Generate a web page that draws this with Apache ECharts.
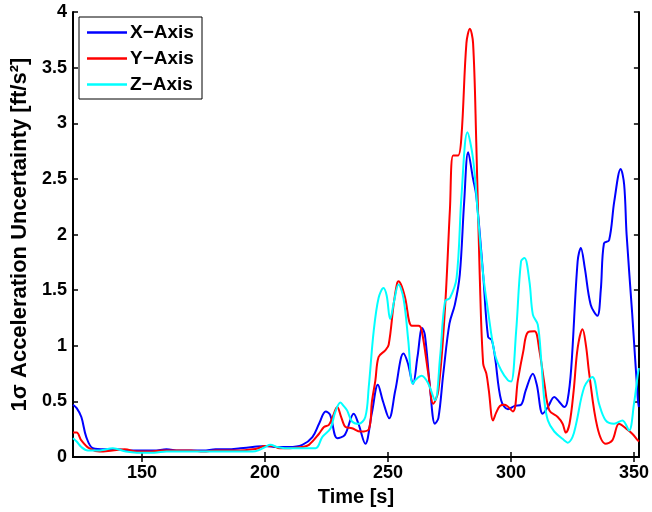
<!DOCTYPE html>
<html>
<head>
<meta charset="utf-8">
<script src="https://cdn.jsdelivr.net/npm/echarts@6/dist/echarts.min.js"></script>
<style>html,body{margin:0;padding:0;background:#fff}#c{width:652px;height:512px}</style>
</head>
<body>
<div id="c"></div>
<script>
// ---- data ----
const seriesNames = ['X\u2212Axis', 'Y\u2212Axis', 'Z\u2212Axis'];
const xTicks = [150, 200, 250, 300, 350];

const xTime = [122,123.5,125.4,127.4,130.1,135,140,145,150,155,160,165,170,175,180,185,190,195,200,205,209.8,215.2,219.3,222,224.7,226.5,229.4,232.5,236.1,238,240.8,243.5,245.9,248,250.5,253,256.3,258,260.2,262,263.9,265,267,269.1,270.5,272.5,275,277.2,279.2,281,282.6,284.6,285.9,288.7,290.7,292.2,293.5,296,298.8,301.5,304.1,306,308.9,310.5,312.9,315,317.6,319.5,321.7,323,324.5,327.1,328.4,330,332.4,335.1,336.5,337.8,339.9,342,344.6,346,347,349.3,351.6,352];
const xVals = [0.47,0.44,0.36,0.18,0.08,0.07,0.07,0.06,0.06,0.06,0.07,0.06,0.06,0.06,0.07,0.07,0.08,0.09,0.10,0.09,0.09,0.11,0.18,0.30,0.41,0.38,0.17,0.20,0.39,0.30,0.12,0.40,0.65,0.50,0.35,0.60,0.93,0.85,0.66,0.90,1.16,1.10,0.65,0.30,0.35,0.75,1.20,1.37,1.64,2.30,2.74,2.50,2.35,1.64,1.08,1.05,0.90,0.51,0.43,0.46,0.47,0.60,0.75,0.65,0.39,0.45,0.54,0.50,0.45,0.51,0.80,1.76,1.88,1.70,1.37,1.27,1.50,1.92,1.95,2.30,2.59,2.45,2.00,1.28,0.51,0.45];

const yTime = [122,123.5,125.4,128.5,132.8,138,143,148,153,158,165,170,175,180,185,190,195,197.3,200,203,206,210,215,217.9,222,224,226,227.5,229.4,231,232.8,235.4,238.8,242.2,243.5,244.9,246.2,248.9,250.3,252.3,253.6,254.3,255.5,257,259.7,262.4,263.7,266.4,268.4,270.5,273.2,275.2,276.5,278.5,279.9,281.9,283.3,284.6,285.9,287.3,288.7,290,291,292.7,294,295.5,297.4,300.8,302.8,305,306.8,309.6,311.6,313.6,315.6,319,321,322.3,323.8,325.5,327.1,329.1,330.5,331.8,335.1,338.5,341.2,343.9,346.6,349.3,351.6,352];
const yVals = [0.22,0.22,0.15,0.08,0.05,0.06,0.07,0.05,0.05,0.06,0.06,0.06,0.05,0.06,0.06,0.06,0.07,0.08,0.10,0.10,0.08,0.08,0.09,0.11,0.21,0.27,0.29,0.36,0.45,0.36,0.27,0.26,0.23,0.25,0.50,0.69,0.90,0.96,1.01,1.37,1.55,1.58,1.54,1.43,1.18,1.18,1.14,0.75,0.48,0.60,1.34,2.23,2.71,2.71,2.89,3.72,3.85,3.72,2.83,1.64,0.84,0.75,0.60,0.33,0.40,0.46,0.47,0.41,0.69,0.95,1.12,1.13,0.95,0.66,0.42,0.36,0.30,0.22,0.30,0.60,0.98,1.15,1.00,0.75,0.27,0.12,0.15,0.30,0.26,0.21,0.15,0.14];

const zTime = [122,123.5,125.4,128,133,138.2,143.5,148,155,160,165,170,175,180,185,190,195,197.3,200.1,202.2,205,208,213.5,220.6,223.3,226.7,228.5,230.7,232,233.4,235.4,238.1,240.8,242.2,244.2,246.2,248.2,249.5,250.9,252.5,254.3,256.3,258.3,260,261.5,263.7,266.4,269.1,271.2,273.2,275.2,277.9,279.9,282.3,284.6,286.6,288.7,290.7,293.4,296,298.8,300.1,302.1,304.1,305.5,307.5,308.9,310.9,312.3,313.6,315,317.6,321.7,323,325,326.5,329.8,333.1,335.8,338.5,341.9,345.3,348,350,351.6,352];
const zVals = [0.17,0.14,0.09,0.06,0.06,0.08,0.05,0.04,0.04,0.05,0.05,0.05,0.05,0.05,0.05,0.05,0.05,0.06,0.09,0.11,0.09,0.08,0.08,0.08,0.18,0.26,0.40,0.49,0.46,0.42,0.32,0.30,0.36,0.63,1.13,1.43,1.52,1.45,1.24,1.40,1.55,1.43,1.04,0.66,0.70,0.73,0.66,0.51,0.90,1.40,1.43,1.61,2.35,2.92,2.68,2.17,1.64,1.31,0.93,0.78,0.69,0.68,1.13,1.76,1.79,1.58,1.28,1.19,0.87,0.50,0.33,0.23,0.15,0.13,0.18,0.30,0.63,0.72,0.48,0.33,0.30,0.33,0.24,0.48,0.75,0.80];

const pair = (t, v) => t.map((x, i) => [x, v[i]]);
const colors = ['#0000ff', '#ff0000', '#00ffff'];
const font = '"Liberation Sans", Arial, sans-serif';

const chart = echarts.init(document.getElementById('c'), null, {renderer: 'canvas'});
const axisLine = {show: true, lineStyle: {color: '#000', width: 2}};
const tick = {show: true, inside: true, length: 5, lineStyle: {color: '#000', width: 1.5}};
chart.setOption({
  animation: false,
  backgroundColor: '#fff',
  grid: {left: 73, right: 10, top: 12, bottom: 51},
  legend: {
    orient: 'vertical', left: 79, top: 17,
    padding: [6, 4, 5, 8], itemGap: 7,
    itemWidth: 40, itemHeight: 2.5, icon: 'rect',
    borderColor: '#000', borderWidth: 1, backgroundColor: '#fff',
    textStyle: {fontFamily: font, fontWeight: 'bold', fontSize: 19, color: '#000', padding: [0,0,0,-2], lineHeight: 19, width: 68},
    data: seriesNames
  },
  xAxis: [{
    type: 'value', min: 122, max: 352, position: 'bottom',
    name: 'Time [s]', nameLocation: 'middle', nameGap: 25,
    nameTextStyle: {fontFamily: font, fontWeight: 'bold', fontSize: 20, color: '#000'},
    axisLine: axisLine,
    axisTick: Object.assign({customValues: xTicks}, tick),
    axisLabel: {customValues: xTicks, fontFamily: font, fontWeight: 'bold', fontSize: 18, color: '#000', margin: 7},
    splitLine: {show: false}
  }, {
    type: 'value', min: 122, max: 352, position: 'top',
    axisLine: axisLine,
    axisTick: Object.assign({customValues: xTicks}, tick),
    axisLabel: {show: false},
    splitLine: {show: false}
  }],
  yAxis: [{
    type: 'value', min: 0, max: 4, interval: 0.5, position: 'left',
    name: '1\u03c3 Acceleration Uncertainty [ft/s\u00b2]', nameLocation: 'middle', nameGap: 36,
    nameTextStyle: {fontFamily: font, fontWeight: 'bold', fontSize: 22, color: '#000'},
    axisLine: axisLine, axisTick: tick,
    axisLabel: {fontFamily: font, fontWeight: 'bold', fontSize: 18, color: '#000', margin: 6},
    splitLine: {show: false}
  }, {
    type: 'value', min: 0, max: 4, interval: 0.5, position: 'right',
    axisLine: axisLine, axisTick: tick,
    axisLabel: {show: false}, splitLine: {show: false}
  }],
  series: [
    {name: seriesNames[0], type: 'line', data: pair(xTime, xVals)},
    {name: seriesNames[1], type: 'line', data: pair(yTime, yVals)},
    {name: seriesNames[2], type: 'line', data: pair(zTime, zVals)}
  ].map((s, i) => Object.assign(s, {
    showSymbol: false, symbol: 'none', smooth: 0.35, clip: true,
    color: colors[i], lineStyle: {color: colors[i], width: 2}
  }))
});
</script>
</body>
</html>
